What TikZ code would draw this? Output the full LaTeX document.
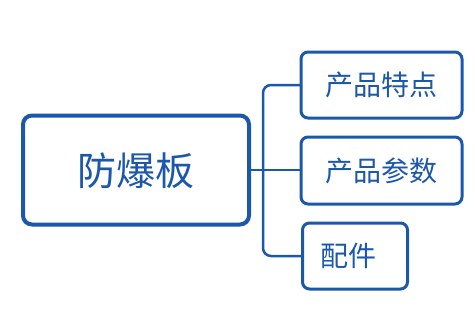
\documentclass[tikz,border=0pt]{standalone}
\usepackage{fontspec}
\newfontfamily\cjk{Noto Sans CJK SC}
\definecolor{mblue}{RGB}{28,88,170}
\begin{document}
\begin{tikzpicture}[x=1pt,y=-1pt,
  mainbox/.style={draw=mblue,line width=4pt,rounded corners=9pt,fill=white},
  subbox/.style={draw=mblue,line width=3pt,rounded corners=7pt,fill=white},
  conn/.style={draw=mblue,line width=2.5pt,rounded corners=8pt}]
\useasboundingbox (0,0) rectangle (475,325);
\coordinate (jn) at (263,170);
\draw[conn] (249,170) -- (301,170);
\draw[conn] (301,85) -- (263,85) -- (263,256) -- (301,256);
\node[mainbox,minimum width=226pt,minimum height=109pt] (main) at (136,170) {};
\node[text=mblue,font=\cjk\fontsize{39}{44}\selectfont] (mt) at (136,171) {防爆板};
\node[subbox,minimum width=161pt,minimum height=66pt] (b1) at (381.5,85) {};
\node[text=mblue,font=\cjk\fontsize{28}{32}\selectfont] at (b1) {产品特点};
\node[subbox,minimum width=161pt,minimum height=67pt] (b2) at (381.5,170.5) {};
\node[text=mblue,font=\cjk\fontsize{28}{32}\selectfont] at (b2) {产品参数};
\node[subbox,minimum width=105pt,minimum height=66pt,anchor=west] (b3) at (301,256) {};
\node[text=mblue,font=\cjk\fontsize{28}{32}\selectfont,anchor=west] at (317,256) {配件};
\end{tikzpicture}
\end{document}
